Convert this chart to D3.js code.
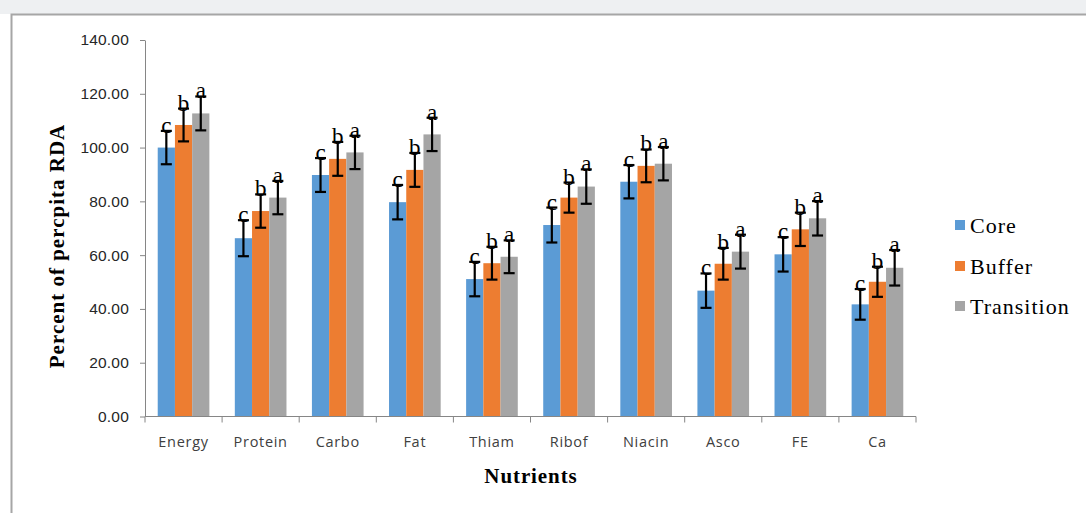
<!DOCTYPE html>
<html><head><meta charset="utf-8">
<script src="https://cdn.jsdelivr.net/npm/d3@7"></script>
<style>
html,body{margin:0;padding:0;background:#fff;}
svg{display:block;}
</style></head>
<body>
<svg id="chart" width="1086" height="513"></svg>
<script>
const categories = ["Energy","Protein","Carbo","Fat","Thiam","Ribof","Niacin","Asco","FE","Ca"];
const seriesNames = ["Core","Buffer","Transition"];
const coreValues       = [100.0, 66.3, 89.8, 79.7, 51.1, 71.2, 87.3, 46.8, 60.3, 41.7];
const bufferValues     = [108.4, 76.4, 95.8, 91.7, 57.0, 81.4, 93.2, 56.8, 69.6, 50.1];
const transitionValues = [112.7, 81.4, 98.2, 104.9, 59.4, 85.5, 94.0, 61.3, 73.7, 55.3];
const coreErrors       = [6.2, 6.7, 6.3, 6.4, 6.4, 6.5, 6.2, 6.4, 6.4, 5.7];
const bufferErrors     = [6.1, 6.2, 6.3, 6.3, 6.1, 5.6, 6.1, 5.9, 6.2, 5.6];
const transitionErrors = [6.3, 6.2, 6.2, 6.2, 6.1, 6.4, 6.2, 6.3, 6.4, 6.6];
const letters = ["c","b","a"];
const yTicks = [0,20,40,60,80,100,120,140];
const colors = ["#5b9bd5","#ed7d31","#a5a5a5"];

const values = [coreValues, bufferValues, transitionValues];
const errors = [coreErrors, bufferErrors, transitionErrors];

const svg = d3.select("#chart");
const serif = "'Liberation Serif','Times New Roman',serif";

// page background / frame
svg.append("rect").attr("x",0).attr("y",0).attr("width",1086).attr("height",14).attr("fill","#eef0f2");
svg.append("rect").attr("x",11.5).attr("y",14.5).attr("width",1090).attr("height",520)
  .attr("fill","#fff").attr("stroke","#a6a6a6").attr("stroke-width",2);

const pLeft = 145, pRight = 916, pTop = 40, pBottom = 416.5;

const x = d3.scaleBand().domain(categories).range([pLeft, pRight]).paddingInner(0.33).paddingOuter(0.165);
const xs = d3.scaleBand().domain(seriesNames).range([0, x.bandwidth()]);
const y = d3.scaleLinear().domain([0,140]).range([pBottom, pTop]);

// bars
seriesNames.forEach((s, si) => {
  const g = svg.append("g");
  g.selectAll("rect").data(categories).join("rect")
    .attr("x", c => x(c) + xs(s))
    .attr("y", (c,i) => y(values[si][i]))
    .attr("width", xs.bandwidth())
    .attr("height", (c,i) => y(0) - y(values[si][i]))
    .attr("fill", colors[si]);
});

// error bars and letters
seriesNames.forEach((s, si) => {
  const g = svg.append("g");
  categories.forEach((c, i) => {
    const cx = x(c) + xs(s) + xs.bandwidth()/2;
    const v = values[si][i], e = errors[si][i];
    const y1 = y(v + e), y2 = y(v - e);
    g.append("line").attr("x1",cx).attr("x2",cx).attr("y1",y1).attr("y2",y2)
      .attr("stroke","#000").attr("stroke-width",2.2);
    [y1,y2].forEach(yy => g.append("line").attr("x1",cx-5.5).attr("x2",cx+5.5).attr("y1",yy).attr("y2",yy)
      .attr("stroke","#000").attr("stroke-width",2.2));
    g.append("text").attr("x",cx).attr("y",y1+2)
      .attr("text-anchor","middle")
      .attr("font-family",serif)
      .attr("font-size",23).attr("fill","#000")
      .text(letters[si]);
  });
});

// y axis
const yAxis = d3.axisLeft(y).tickValues(yTicks).tickFormat(d3.format(".2f")).tickSize(5).tickSizeOuter(0);
const ya = svg.append("g").attr("transform",`translate(${pLeft},0)`).call(yAxis);
ya.select(".domain").attr("stroke","#868686");
ya.selectAll(".tick line").attr("stroke","#868686");
ya.selectAll(".tick text").attr("font-family","'Liberation Sans',Arial,sans-serif")
  .attr("font-size",15.5).attr("fill","#262626").attr("x",-16).attr("letter-spacing","0.2");

// x axis
const xa = svg.append("g").attr("transform",`translate(0,${pBottom})`);
xa.append("line").attr("x1",pLeft).attr("x2",pRight).attr("y1",0).attr("y2",0).attr("stroke","#868686");
const boundaries = d3.range(categories.length+1).map(i => pLeft + i*(pRight-pLeft)/categories.length);
xa.selectAll("line.tk").data(boundaries).join("line").attr("class","tk")
  .attr("x1",d=>d).attr("x2",d=>d).attr("y1",0).attr("y2",6).attr("stroke","#868686");
xa.selectAll("text").data(categories).join("text")
  .attr("x", c => x(c) + x.bandwidth()/2).attr("y",30)
  .attr("text-anchor","middle")
  .attr("font-family","'Open Sans','Liberation Sans',Arial,sans-serif")
  .attr("font-size",14.5).attr("fill","#404040").attr("letter-spacing","0.7")
  .text(c => c);

// axis titles
svg.append("text").attr("x",531).attr("y",483).attr("text-anchor","middle")
  .attr("font-family",serif).attr("font-weight","bold")
  .attr("font-size",21).attr("letter-spacing","0.9").attr("fill","#000").text("Nutrients");
svg.append("text").attr("transform","translate(64,246) rotate(-90)").attr("text-anchor","middle")
  .attr("font-family",serif).attr("font-weight","bold")
  .attr("font-size",21).attr("letter-spacing","1").attr("fill","#000").text("Percent of percpita RDA");

// legend
const lg = svg.append("g");
const legendY = [226, 267, 307];
seriesNames.forEach((s, si) => {
  lg.append("rect").attr("x",955).attr("y",legendY[si]-6).attr("width",10).attr("height",10).attr("fill",colors[si]);
  lg.append("text").attr("x",970).attr("y",legendY[si]+7)
    .attr("font-family",serif).attr("letter-spacing","1")
    .attr("font-size",22).attr("fill","#000").text(s);
});
</script>
</body></html>
